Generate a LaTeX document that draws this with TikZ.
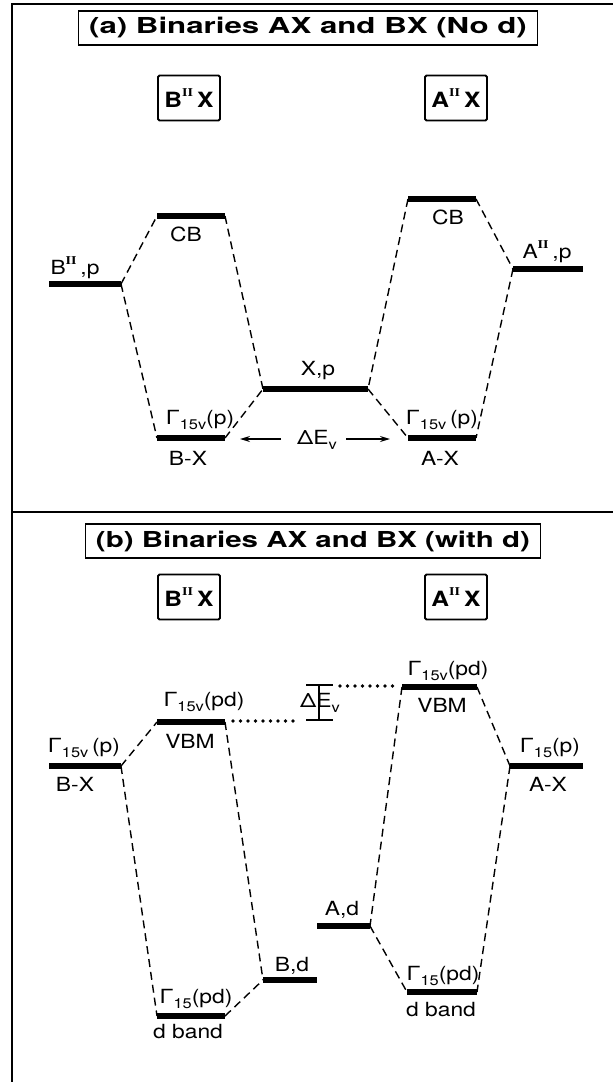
\documentclass[tikz,border=0pt]{standalone}
\usepackage{fontspec}
\setmainfont{TeX Gyre Heros}
\newfontfamily\romanII{Liberation Serif}
\usetikzlibrary{arrows.meta,calc}
\newcommand\lowr[1]{\raisebox{-0.28em}{\fontsize{14}{14}\selectfont #1}}
\newcommand\supII{\raisebox{0.5em}{\fontsize{12}{12}\selectfont\romanII\bfseries II}}
\newcommand\tx[1]{\scalebox{1.17}[1]{#1}}
\begin{document}
\begin{tikzpicture}[x=1pt,y=-1pt,
  framel/.style={line width=2pt},
  titlebox/.style={draw,line width=1.8pt,inner sep=0pt,minimum height=34pt,font=\fontsize{22}{26}\selectfont\bfseries},
  cbox/.style={draw,line width=1.8pt,rounded corners=1.5pt,inner sep=0pt,minimum width=62pt,minimum height=45pt,font=\fontsize{21}{24}\selectfont\bfseries},
  lvl/.style={line width=6pt},
  conn/.style={line width=1.4pt,dash pattern=on 8pt off 5pt},
  dots/.style={line width=3.6pt,dash pattern=on 0pt off 7.5pt,line cap=round},
  lbl/.style={inner sep=0pt,font=\fontsize{19.5}{22}\selectfont},
  thin/.style={line width=1.3pt}
]
\useasboundingbox (0,0) rectangle (613,1082);
% frame
\draw[framel] (12,1082) -- (12,4) -- (613,4);
\draw[framel] (12,512) -- (613,512);

%%%%% panel (a)
\node[titlebox,minimum width=459pt] (ta) at (308,28) {\scalebox{1.42}[1]{(a) Binaries AX and BX (No d)}};
\node[cbox] (bxa) at (189,98) {\tx{B\supII\,X}};
\node[cbox] (axa) at (456,98) {\tx{A\supII\,X}};

\coordinate (bpL) at (49,284);  \coordinate (bpR) at (121,284);
\coordinate (cbaL) at (157,216); \coordinate (cbaR) at (225,216);
\coordinate (xpL) at (263,389); \coordinate (xpR) at (368,389);
\coordinate (gaL) at (157,438); \coordinate (gaR) at (225,438);
\coordinate (cbbL) at (408,199); \coordinate (cbbR) at (476,199);
\coordinate (apL) at (513,269); \coordinate (apR) at (583,269);
\coordinate (gbL) at (408,438); \coordinate (gbR) at (476,438);

\foreach \a/\b in {bpL/bpR,cbaL/cbaR,xpL/xpR,gaL/gaR,cbbL/cbbR,apL/apR,gbL/gbR}
  \draw[lvl] (\a) -- (\b);

\draw[conn] (bpR) -- (cbaL);
\draw[conn] (bpR) -- (gaL);
\draw[conn] (cbaR) -- (xpL);
\draw[conn] (gaR) -- (xpL);
\draw[conn] (cbbL) -- (xpR);
\draw[conn] (xpR) -- (gbL);
\draw[conn] (cbbR) -- (apL);
\draw[conn] (apL) -- (gbR);

\node[lbl] (lbp) at (75,268) {\tx{B\supII\,,p}};
\node[lbl] (lcba) at (186,234) {\tx{CB}};
\node[lbl] (lxp) at (318,371) {\tx{X,p}};
\node[lbl] (lga) at (200,420) {\tx{Γ\lowr{15v}(p)}};
\node[lbl] (lbxa) at (188,458) {\tx{B-X}};
\node[lbl] (lcbb) at (448,217) {\tx{CB}};
\node[lbl] (lap) at (547,252) {\tx{A\supII\,,p}};
\node[lbl] (lgb) at (442,420) {\tx{Γ\lowr{15v}\,(p)}};
\node[lbl] (laxa) at (440,458) {\tx{A-X}};
\node[lbl] (dEa) at (317,440) {\tx{ΔE\lowr{v}}};
\coordinate (arL1) at (281,439); \coordinate (arL2) at (240,439);
\coordinate (arR1) at (346,439); \coordinate (arR2) at (390,439);
\draw[thin,-{Stealth[length=10pt,width=6pt]}] (arL1) -- (arL2);
\draw[thin,-{Stealth[length=10pt,width=6pt]}] (arR1) -- (arR2);

%%%%% panel (b)
\node[titlebox,minimum width=455pt] (tb) at (313,541) {\scalebox{1.34}[1]{(b) Binaries AX and BX (with d)}};
\node[cbox] (bxb) at (189,597) {\tx{B\supII\,X}};
\node[cbox] (axb) at (456,597) {\tx{A\supII\,X}};

\coordinate (vlL) at (157,722); \coordinate (vlR) at (225,722);
\coordinate (vrL) at (402,687); \coordinate (vrR) at (477,687);
\coordinate (bxL) at (49,766);  \coordinate (bxR) at (121,766);
\coordinate (axL) at (510,766); \coordinate (axR) at (583,766);
\coordinate (adL) at (317,926); \coordinate (adR) at (370,926);
\coordinate (bdL) at (263,980); \coordinate (bdR) at (317,980);
\coordinate (dlL) at (157,1016); \coordinate (dlR) at (225,1016);
\coordinate (drL) at (407,992); \coordinate (drR) at (477,992);

\foreach \a/\b in {vlL/vlR,vrL/vrR,bxL/bxR,axL/axR,adL/adR,bdL/bdR,dlL/dlR,drL/drR}
  \draw[lvl] (\a) -- (\b);

\draw[conn] (bxR) -- (vlL);
\draw[conn] (bxR) -- (dlL);
\draw[conn] (vlR) -- (bdL);
\draw[conn] (dlR) -- (bdL);
\draw[conn] (vrL) -- (adR);
\draw[conn] (adR) -- (drL);
\draw[conn] (vrR) -- (axL);
\draw[conn] (axL) -- (drR);

% I-beam and dotted lines
\coordinate (ibT) at (319,685); \coordinate (ibB) at (319,720);
\coordinate (ibTl) at (306,685); \coordinate (ibTr) at (333,685);
\coordinate (ibBl) at (306,720); \coordinate (ibBr) at (333,720);
\draw[thin] (ibT) -- (ibB);
\draw[thin] (ibTl) -- (ibTr);
\draw[thin] (ibBl) -- (ibBr);
\coordinate (dotA0) at (233,721); \coordinate (dotA) at (300,721);
\coordinate (dotB) at (340,686); \coordinate (dotB1) at (398,686);
\draw[dots] (dotA0) -- (dotA);
\draw[dots] (dotB) -- (dotB1);
\node[lbl,anchor=west] (dEb) at (300,703) {\tx{ΔE\lowr{v}}};

\node[lbl] (lvl1) at (204,702) {\tx{Γ\lowr{15v}(pd)}};
\node[lbl] (lvl2) at (190,741) {\tx{VBM}};
\node[lbl] (lvr1) at (448,671) {\tx{Γ\lowr{15v}(pd)}};
\node[lbl] (lvr2) at (442,705) {\tx{VBM}};
\node[lbl] (lbx1) at (84,748) {\tx{Γ\lowr{15v}\,(p)}};
\node[lbl] (lbx2) at (75,784) {\tx{B-X}};
\node[lbl] (lax1) at (550,748) {\tx{Γ\lowr{15}(p)}};
\node[lbl] (lax2) at (548,784) {\tx{A-X}};
\node[lbl] (lad) at (342,910) {\tx{A,d}};
\node[lbl] (lbd) at (292,966) {\tx{B,d}};
\node[lbl] (ldl1) at (196,999) {\tx{Γ\lowr{15}(pd)}};
\node[lbl] (ldl2) at (188,1032) {\tx{d band}};
\node[lbl] (ldr1) at (443,976) {\tx{Γ\lowr{15}(pd)}};
\node[lbl] (ldr2) at (441,1010) {\tx{d band}};
\end{tikzpicture}
\end{document}
